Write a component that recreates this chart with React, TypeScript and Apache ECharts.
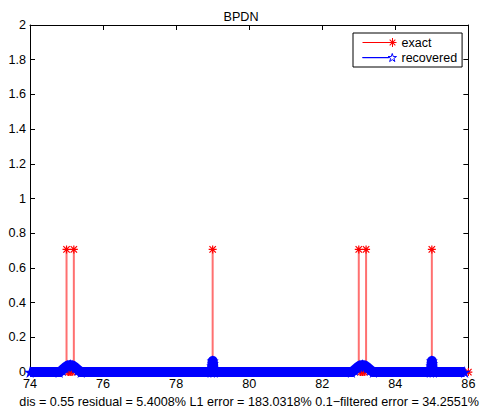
import React, { useEffect, useRef } from 'react';
import * as echarts from 'echarts';

// ---- data ----
const titleText = 'BPDN';
const xLabelText = 'dis = 0.55 residual = 5.4008% L1 error = 183.0318% 0.1\u2212filtered error = 34.2551%';
const xMin = 74;
const xMax = 86;
const xStep = 2;
const yMin = 0;
const yMax = 2;
const yStep = 0.2;

// exact signal: spikes
const exactX = [75.0, 75.2, 79.0, 83.0, 83.2, 85.0];
const exactV = [0.7071, 0.7071, 0.7071, 0.7071, 0.7071, 0.7071];
// exact signal samples that are zero and visible under the recovered humps
const exactZeroX = [75.05, 75.1, 75.15, 83.05, 83.1, 83.15, 86.0];

// recovered signal (zero elsewhere)
const recoveredX = [
  74.0, 74.8, 74.88, 74.96, 75.03, 75.1, 75.17, 75.24, 75.32, 75.4,
  78.96, 78.99, 79.0, 79.01, 79.02, 79.04,
  82.8, 82.88, 82.96, 83.03, 83.1, 83.17, 83.24, 83.32, 83.4,
  84.96, 84.99, 85.0, 85.01, 85.02, 85.04, 85.9,
];
const recoveredV = [
  0, 0, 0.012, 0.027, 0.037, 0.041, 0.037, 0.027, 0.012, 0,
  0, 0.035, 0.064, 0.05, 0.02, 0,
  0, 0.012, 0.027, 0.037, 0.041, 0.037, 0.027, 0.012, 0,
  0, 0.035, 0.064, 0.05, 0.02, 0, 0,
];

const RED = '#ff0000';
const STEM_RED = '#ff7070';
const BLUE = '#0000ff';
const FONT = '"Liberation Sans", Arial, Helvetica, sans-serif';

const ASTERISK =
  'path://M8.5 0H11.5V20H8.5Z M0 8.5H20V11.5H0Z M3.06 0.94L19.06 16.94L16.94 19.06L0.94 3.06Z M16.94 0.94L19.06 3.06L3.06 19.06L0.94 16.94Z';
const PENTAGRAM =
  'path://M10 0L12.25 6.91L19.51 6.91L13.63 11.18L15.88 18.09L10 13.82L4.12 18.09L6.37 11.18L0.49 6.91L7.75 6.91Z';
const LEGEND_EXACT =
  'path://M0 4.5H30V5.5H0Z M29.5 0.5H30.5V9.5H29.5Z M26 4.5H34V5.5H26Z M27.52 1.82L33.18 7.48L32.48 8.18L26.82 2.52Z M32.48 1.82L33.18 2.52L27.52 8.18L26.82 7.48Z';
const LEGEND_RECOVERED =
  'path://M0 4.9H26.5V5.1H0Z M30 0.8L31.01 3.91L34.28 3.91L31.64 5.83L32.65 8.94L30 7.02L27.35 8.94L28.36 5.83L25.72 3.91L28.99 3.91Z';

const stemSeries = (data: number[][], color: string, width: number, z: number) => ({
  type: 'custom',
  silent: true,
  z,
  clip: false,
  data,
  renderItem: (params: any, api: any) => {
    const x = api.value(0);
    const v = api.value(1);
    const p0 = api.coord([x, 0]);
    const p1 = api.coord([x, v]);
    return {
      type: 'line',
      shape: { x1: p0[0], y1: p0[1], x2: p1[0], y2: p1[1] },
      style: { stroke: color, lineWidth: width },
    };
  },
});

export default function App() {
  const ref = useRef<HTMLDivElement>(null);
  useEffect(() => {
    document.body.style.margin = '0';
    if (!ref.current) return;
    const chart = echarts.init(ref.current, undefined, { renderer: 'svg' });

    const exactStems = exactX.map((x, i) => [x, exactV[i]]);
    const exactPts = exactStems.concat(exactZeroX.map((x) => [x, 0]));
    const recPts = recoveredX.map((x, i) => [x, recoveredV[i]]);

    const axisCommon = {
      axisLine: { show: true, onZero: false, lineStyle: { color: '#000', width: 1 } },
      axisTick: { show: true, inside: true, length: 5, lineStyle: { color: '#000', width: 1 } },
      splitLine: { show: false },
    };

    chart.setOption({
      animation: false,
      backgroundColor: '#fff',
      textStyle: { fontFamily: FONT },
      title: {
        text: titleText,
        left: 'center',
        top: 5,
        textStyle: { fontFamily: FONT, fontSize: 12.6, fontWeight: 'normal', color: '#000' },
      },
      grid: { left: 30, right: 13, top: 25, bottom: 40, containLabel: false },
      legend: {
        orient: 'vertical',
        left: 353,
        top: 33,
        padding: [3, 5, 3, 9],
        itemGap: 2,
        itemWidth: 34,
        itemHeight: 10,
        backgroundColor: '#fff',
        borderColor: '#000',
        borderWidth: 1,
        borderRadius: 0,
        textStyle: { fontFamily: FONT, fontSize: 12.5, color: '#000' },
        data: [
          { name: 'exact', icon: LEGEND_EXACT, itemStyle: { color: RED, borderWidth: 0 } },
          {
            name: 'recovered',
            icon: LEGEND_RECOVERED,
            itemStyle: { color: '#fff', borderColor: BLUE, borderWidth: 1 },
          },
        ],
      },
      xAxis: [
        {
          type: 'value',
          min: xMin,
          max: xMax,
          interval: xStep,
          position: 'bottom',
          ...axisCommon,
          axisLabel: { color: '#000', fontSize: 12.6, fontFamily: FONT, margin: 5 },
          name: xLabelText,
          nameLocation: 'middle',
          nameGap: 19,
          nameTextStyle: { color: '#000', fontSize: 12.6, fontFamily: FONT },
        },
        {
          type: 'value',
          min: xMin,
          max: xMax,
          interval: xStep,
          position: 'top',
          ...axisCommon,
          axisLabel: { show: false },
        },
      ],
      yAxis: [
        {
          type: 'value',
          min: yMin,
          max: yMax,
          interval: yStep,
          position: 'left',
          ...axisCommon,
          axisLabel: {
            color: '#000',
            fontSize: 12.6,
            fontFamily: FONT,
            margin: 4,
            formatter: (v: number) => String(+v.toFixed(1)),
          },
        },
        {
          type: 'value',
          min: yMin,
          max: yMax,
          interval: yStep,
          position: 'right',
          ...axisCommon,
          axisLabel: { show: false },
        },
      ],
      series: [
        stemSeries(exactStems, STEM_RED, 2, 2),
        {
          name: 'exact',
          type: 'scatter',
          z: 3,
          clip: false,
          silent: true,
          symbol: ASTERISK,
          symbolSize: 8,
          itemStyle: { color: RED, opacity: 1 },
          data: exactPts,
        },
        stemSeries(recPts, BLUE, 1, 4),
        {
          type: 'line',
          z: 5,
          clip: false,
          silent: true,
          showSymbol: false,
          symbol: 'none',
          lineStyle: { color: BLUE, width: 10, join: 'round', cap: 'butt' },
          data: recPts,
        },
        {
          name: 'recovered',
          type: 'scatter',
          z: 6,
          clip: false,
          silent: true,
          symbol: PENTAGRAM,
          symbolSize: 12,
          itemStyle: { color: BLUE, opacity: 1 },
          data: recPts,
        },
      ],
    });
    return () => chart.dispose();
  }, []);
  return <div ref={ref} style={{ width: 482, height: 413 }} />;
}
